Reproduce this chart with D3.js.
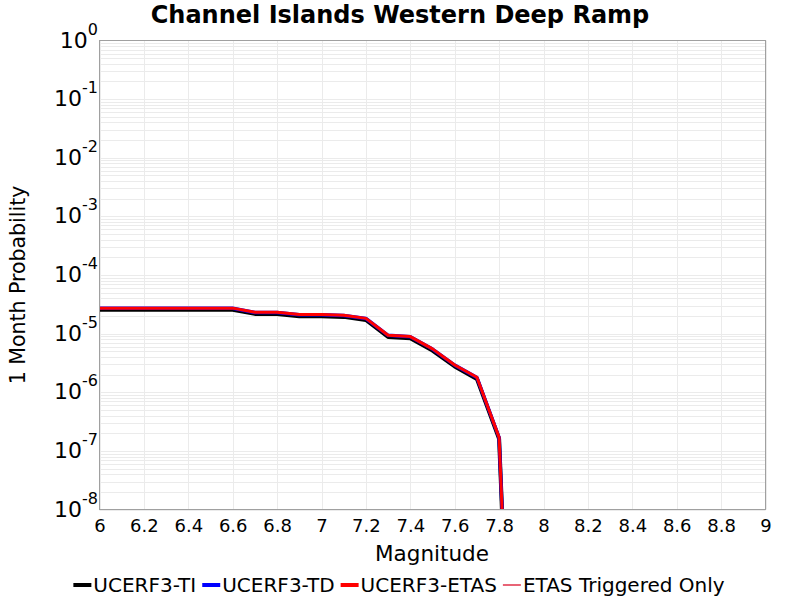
<!DOCTYPE html>
<html>
<head>
<meta charset="utf-8">
<script src="https://cdn.jsdelivr.net/npm/d3@7/dist/d3.min.js"></script>
<style>
  body { margin: 0; background: #fff; }
  svg { display: block; font-family: "DejaVu Sans", sans-serif; }
</style>
</head>
<body>
<svg id="chart" width="800" height="600"></svg>
<script>
const title = "Channel Islands Western Deep Ramp";
const xLabel = "Magnitude";
const yLabel = "1 Month Probability";
const magnitudes = [6.0, 6.1, 6.2, 6.3, 6.4, 6.5, 6.6, 6.7, 6.8, 6.9, 7.0, 7.1, 7.2, 7.3, 7.4, 7.5, 7.6, 7.7, 7.8, 7.9];
const ti   = [2.55e-5, 2.55e-5, 2.55e-5, 2.55e-5, 2.55e-5, 2.55e-5, 2.55e-5, 2.17e-5, 2.17e-5, 1.98e-5, 1.98e-5, 1.93e-5, 1.71e-5, 8.8e-6, 8.35e-6, 5.15e-6, 2.75e-6, 1.69e-6, 1.6e-7, 1e-16];
const td   = [2.7e-5, 2.7e-5, 2.7e-5, 2.7e-5, 2.7e-5, 2.7e-5, 2.7e-5, 2.3e-5, 2.3e-5, 2.1e-5, 2.1e-5, 2.04e-5, 1.81e-5, 9.35e-6, 8.85e-6, 5.45e-6, 2.9e-6, 1.79e-6, 1.69e-7, 1e-16];
const etas = [2.72e-5, 2.72e-5, 2.72e-5, 2.72e-5, 2.72e-5, 2.72e-5, 2.72e-5, 2.31e-5, 2.31e-5, 2.11e-5, 2.11e-5, 2.05e-5, 1.82e-5, 9.4e-6, 8.9e-6, 5.5e-6, 2.92e-6, 1.8e-6, 1.7e-7, 1e-16];
const triggeredOnly = [];
const xTicks = [6, 6.2, 6.4, 6.6, 6.8, 7, 7.2, 7.4, 7.6, 7.8, 8, 8.2, 8.4, 8.6, 8.8, 9];
const yExponents = [0, -1, -2, -3, -4, -5, -6, -7, -8];
const seriesNames = ["UCERF3-TI", "UCERF3-TD", "UCERF3-ETAS", "ETAS Triggered Only"];
const seriesColors = ["#000000", "#0000ff", "#ff0000", "#e03048"];

(function () {
const svg = d3.select("#chart");
const pL = 99.5, pR = 765.5, pT = 40.5, pB = 509.5;
const x = d3.scaleLinear().domain([6, 9]).range([pL, pR]);
const y = d3.scaleLog().domain([1e-8, 1]).range([pB, pT]);

// grid
const grid = svg.append("g");
for (let e = -8; e < 0; e++) {
  for (let m = 1; m <= 9; m++) {
    const v = m * Math.pow(10, e);
    grid.append("line").attr("x1", pL).attr("x2", pR)
      .attr("y1", Math.round(y(v)) + 0.5).attr("y2", Math.round(y(v)) + 0.5)
      .attr("stroke", "#ebebeb").attr("stroke-width", 1);
  }
}
xTicks.forEach(t => {
  grid.append("line").attr("y1", pT).attr("y2", pB)
    .attr("x1", Math.round(x(t)) + 0.5).attr("x2", Math.round(x(t)) + 0.5)
    .attr("stroke", "#ebebeb").attr("stroke-width", 1);
});

// clip
svg.append("clipPath").attr("id", "clip").append("rect")
  .attr("x", pL).attr("y", pT).attr("width", pR - pL).attr("height", pB - pT);

const line = d3.line().x(d => x(d[0])).y(d => y(d[1]));
const plot = svg.append("g").attr("clip-path", "url(#clip)");
const allSeries = [ti, td, etas, triggeredOnly];
const widths = [4, 3.5, 3, 1];
allSeries.forEach((vals, i) => {
  if (!vals.length) return;
  plot.append("path")
    .datum(magnitudes.map((m, j) => [m, vals[j]]))
    .attr("fill", "none").attr("stroke", seriesColors[i])
    .attr("stroke-width", widths[i]).attr("stroke-linejoin", "round")
    .attr("d", line);
});

// border
svg.append("rect").attr("x", pL).attr("y", pT).attr("width", pR - pL).attr("height", pB - pT)
  .attr("fill", "none").attr("stroke", "#a0a0a0").attr("stroke-width", 1);

// x axis ticks
const xAxis = d3.axisBottom(x).tickValues(xTicks).tickSize(0).tickPadding(10)
  .tickFormat(d => d3.format("~g")(d));
const xg = svg.append("g").attr("transform", `translate(0,${pB})`).call(xAxis);
xg.select(".domain").remove();
xg.selectAll("text").attr("font-size", 18).attr("font-family", "DejaVu Sans").attr("fill", "#000");

// y tick labels
const yg = svg.append("g");
yExponents.forEach(e => {
  const yy = y(Math.pow(10, e));
  const t = yg.append("text").attr("x", 98).attr("y", yy + 7)
    .attr("text-anchor", "end").attr("fill", "#000").attr("font-family", "DejaVu Sans");
  t.append("tspan").attr("font-size", 22).text("10");
  t.append("tspan").attr("font-size", 16).attr("dy", -13).text(String(e));
});

// title
svg.append("text").attr("x", 400).attr("y", 23).attr("text-anchor", "middle")
  .attr("font-size", 24).attr("font-weight", "bold").text(title);
// x label
svg.append("text").attr("x", 432).attr("y", 561).attr("text-anchor", "middle")
  .attr("font-size", 21.5).text(xLabel);
// y label
svg.append("text").attr("transform", "translate(25,285) rotate(-90)").attr("text-anchor", "middle")
  .attr("font-size", 20.5).text(yLabel);

// legend
const lg = svg.append("g");
const legendY = 585;
const fs = 20;
const items = seriesNames.map((n, i) => ({ n, i }));
const tmp = svg.append("text").attr("font-size", fs);
const widthsTxt = items.map(it => { tmp.text(it.n); return tmp.node().getComputedTextLength(); });
tmp.remove();
const sw = 18, gap = 2, itemGap = 6;
const total = d3.sum(widthsTxt) + items.length * (sw + gap) + (items.length - 1) * itemGap;
let cx = 399 - total / 2;
const swW = [4, 4, 4, 1.5];
items.forEach((it, k) => {
  lg.append("line").attr("x1", cx).attr("x2", cx + sw).attr("y1", legendY).attr("y2", legendY)
    .attr("stroke", seriesColors[it.i]).attr("stroke-width", swW[it.i]);
  lg.append("text").attr("x", cx + sw + gap).attr("y", legendY + 7).attr("font-size", fs).text(it.n);
  cx += sw + gap + widthsTxt[k] + itemGap;
});
})();
</script>
</body>
</html>
